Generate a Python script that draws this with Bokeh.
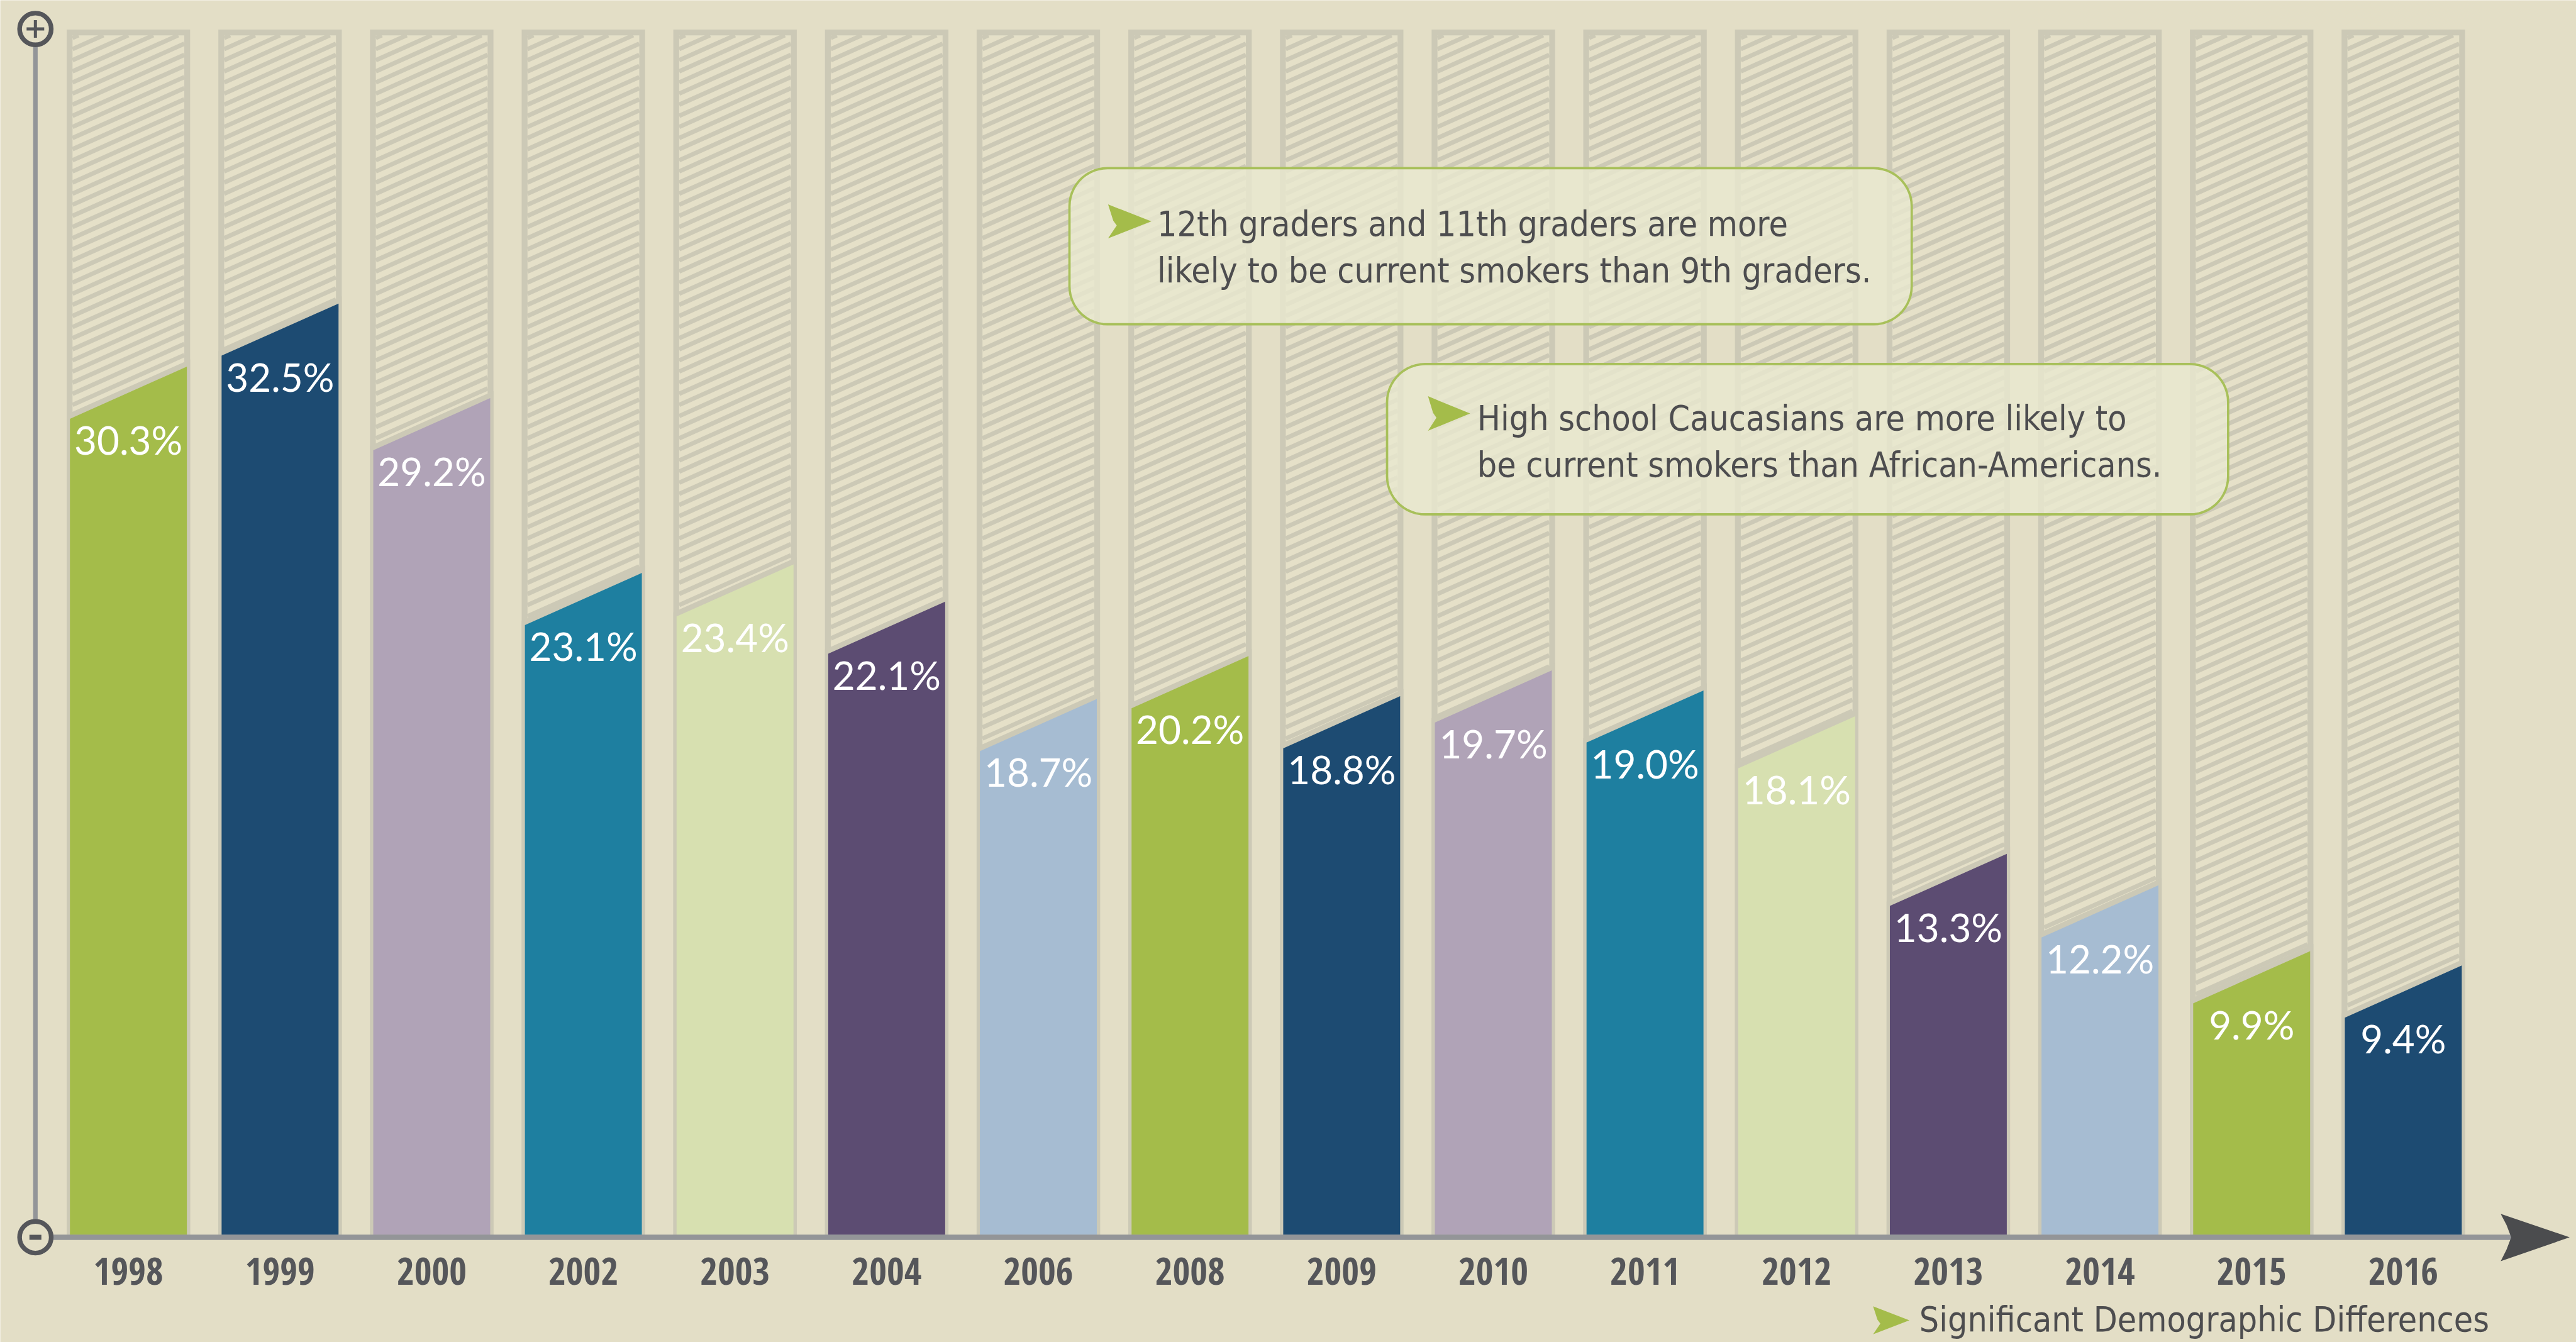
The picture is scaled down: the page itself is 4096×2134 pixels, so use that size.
import numpy as np
from bokeh.plotting import figure
from bokeh.models import Range1d, ColumnDataSource
from bokeh.embed import file_html
from bokeh.resources import INLINE
from bokeh.core.properties import value

# ---------------- data ----------------
years = ["1998", "1999", "2000", "2002", "2003", "2004", "2006", "2008",
         "2009", "2010", "2011", "2012", "2013", "2014", "2015", "2016"]
rates = [30.3, 32.5, 29.2, 23.1, 23.4, 22.1, 18.7, 20.2,
         18.8, 19.7, 19.0, 18.1, 13.3, 12.2, 9.9, 9.4]
rate_labels = ["30.3%", "32.5%", "29.2%", "23.1%", "23.4%", "22.1%", "18.7%", "20.2%",
               "18.8%", "19.7%", "19.0%", "18.1%", "13.3%", "12.2%", "9.9%", "9.4%"]
callout_1 = ["12th graders and 11th graders are more",
             "likely to be current smokers than 9th graders."]
callout_2 = ["High school Caucasians are more likely to",
             "be current smokers than African-Americans."]
legend_text = "Significant Demographic Differences"

# ---------------- styles ----------------
BG = "#e3dec6"
BAR_GRAY = "#ccc9b6"
HATCH_LIGHT = "#e5e0c8"
AXIS_GRAY = "#939598"
DARK = "#55565a"
TEXT_DARK = "#4d4d4f"
GREEN = "#a4bc4a"
palette = ["#a4bc4a", "#1d4b72", "#b0a3b7", "#1e7fa0", "#d7e0b0", "#5c4c72", "#a6bcd2"]
bar_colors = [palette[i % len(palette)] for i in range(len(years))]
COND = "DejaVu Sans Condensed, Roboto"
COND_BOLD = "Open Sans Condensed, DejaVu Sans Condensed"

W, H = 4096, 2134
S = 0.93                              # reference -> page scale
PX_X, PX_Y = 259.3 * S, 49.0 * S      # pixels per data unit
XS = -219 * S / PX_X                  # data x at left edge
YE = 2111 * S / PX_Y                  # data y at top edge
XE = XS + W / PX_X
YS = YE - H / PX_Y
TXT_UP = 17                           # px correction for text baseline

def rx(fx):  # reference pixel -> data x
    return XS + fx * S / PX_X

def ry(fy):  # reference pixel (from top) -> data y
    return YE - fy * S / PX_Y

BG_HALF, COL_HALF, IN_HALF = 0.407, 0.3855, 0.3685
BG_TOP = 42.06
IN_TOP = BG_TOP - 0.2
SLOPE = 2.36
GAP = 0.2
PERIOD = 0.388

p = figure(width=W, height=H, x_range=Range1d(XS, XE), y_range=Range1d(YS, YE),
           output_backend="svg", toolbar_location=None, tools="", min_border=0,
           background_fill_color=BG, border_fill_color=BG, outline_line_color=None)
p.axis.visible = False
p.grid.visible = False

x = np.arange(len(years), dtype=float)
v = np.array(rates)

# background bars
p.quad(left=x - BG_HALF, right=x + BG_HALF, bottom=0, top=BG_TOP,
       fill_color=BAR_GRAY, line_color=None)
p.quad(left=x - IN_HALF, right=x + IN_HALF, bottom=0, top=IN_TOP,
       fill_color=HATCH_LIGHT, line_color=None)

# hatch stripes (clipped to the inner box)
sx0, sy0, sx1, sy1 = [], [], [], []
rise = SLOPE * 2 * IN_HALF
for xi in x:
    xl, xr = xi - IN_HALF, xi + IN_HALF
    yl = -rise + 0.05
    while yl < IN_TOP:
        ax0, ay0, ax1, ay1 = xl, yl, xr, yl + rise
        if ay0 < 0:
            ax0, ay0 = xl + (0 - yl) / SLOPE, 0.0
        if ay1 > IN_TOP:
            ax1, ay1 = xl + (IN_TOP - yl) / SLOPE, IN_TOP
        if ax1 > ax0:
            sx0.append(ax0); sy0.append(ay0); sx1.append(ax1); sy1.append(ay1)
        yl += PERIOD
p.segment(x0=sx0, y0=sy0, x1=sx1, y1=sy1, line_color=BAR_GRAY, line_width=7.0,
          line_cap="butt")

# gray band under the slanted top, then colored bars
band_xs, band_ys, col_xs, col_ys = [], [], [], []
for xi, vi in zip(x, v):
    xr_c = xi + COL_HALF
    top = lambda xx: vi + GAP + SLOPE * (xx - xr_c)
    band_xs.append([xi - BG_HALF, xi + BG_HALF, xi + BG_HALF, xi - BG_HALF])
    band_ys.append([0, 0, top(xi + BG_HALF), top(xi - BG_HALF)])
    col_xs.append([xi - COL_HALF, xi + COL_HALF, xi + COL_HALF, xi - COL_HALF])
    col_ys.append([0, 0, vi, vi - SLOPE * 2 * COL_HALF])
p.patches(band_xs, band_ys, fill_color=BAR_GRAY, line_color=None)
src = ColumnDataSource(dict(xs=col_xs, ys=col_ys, color=bar_colors))
p.patches("xs", "ys", source=src, fill_color="color", line_color=None)

# value labels
left_top = v - SLOPE * 2 * COL_HALF
p.text(x=x, y=left_top - (51 - 18) / PX_Y, text=rate_labels, text_color="white",
       text_font=value("Lato"), text_font_size="62px", text_align="center",
       text_baseline="alphabetic")

# year labels
p.text(x=x, y=[ry(2191) + TXT_UP / PX_Y] * len(x), text=years, text_color=DARK,
       text_font=value(COND_BOLD), text_font_style="bold",
       text_font_size="60px", text_align="center", text_baseline="alphabetic")

# axes decoration
ax_x = rx(60)
p.line([ax_x, ax_x], [ry(49), ry(2115)], line_color=AXIS_GRAY, line_width=7.2)
p.line([ax_x, rx(4293)], [ry(2115), ry(2115)], line_color=AXIS_GRAY, line_width=8.4)
arrow_pts = [(4275, 2075), (4393, 2115), (4275, 2156), (4285, 2136),
             (4293, 2115), (4285, 2094)]
p.patch([rx(a) for a, b in arrow_pts], [ry(b) for a, b in arrow_pts],
        fill_color="#4b4c4e", line_color=None)
p.scatter([ax_x, ax_x], [ry(49), ry(2115)], size=50.3, marker="circle",
          fill_color=BG, line_color=DARK, line_width=7.4)
arm = 14 / PX_X
p.segment(x0=[ax_x - arm, ax_x], y0=[ry(49), ry(49) + 14 / PX_Y],
          x1=[ax_x + arm, ax_x], y1=[ry(49), ry(49) - 14 / PX_Y],
          line_color=DARK, line_width=5, line_cap="butt")
p.rect(x=[ax_x], y=[ry(2115)], width=19, height=8, width_units="screen",
       height_units="screen", fill_color=DARK, line_color=None)

# callouts
def rounded(x0, y0, x1, y1, r, n=14):
    pts = []
    for cx, cy, a0 in [(x0 + r, y0 + r, 180), (x1 - r, y0 + r, 270),
                       (x1 - r, y1 - r, 0), (x0 + r, y1 - r, 90)]:
        for t in np.linspace(a0, a0 + 90, n):
            pts.append((cx + r * np.cos(np.radians(t)), cy + r * np.sin(np.radians(t))))
    return [rx(a) for a, b in pts], [ry(b) for a, b in pts]

def marker(xl, xr, yt, yb):
    w, h = xr - xl, yb - yt
    ym = (yt + yb) / 2
    pts = [(xl, yt), (xr, ym), (xl, yb), (xl + 0.2 * w, ym + 0.12 * h),
           (xl + 0.12 * w, ym - 0.02 * h)]
    return [rx(a) for a, b in pts], [ry(b) for a, b in pts]

for box, tri, tx, bases, lines in [
        ((1828, 287, 3268, 554), (1894, 1968, 349, 407), 1978, (400, 480), callout_1),
        ((2371, 622, 3809, 879), (2441, 2513, 677, 736), 2525, (733, 812), callout_2)]:
    bx, by = rounded(*box, 65)
    p.patch(bx, by, fill_color="#e9e8cf", fill_alpha=0.8, line_color="#a8c05a", line_width=3.7)
    mx, my = marker(*tri)
    p.patch(mx, my, fill_color=GREEN, line_color=None)
    p.text(x=[rx(tx)] * 2, y=[ry(b) + TXT_UP / PX_Y for b in bases], text=lines,
           text_color=TEXT_DARK, text_font=value(COND), text_font_size="55px",
           text_align="left", text_baseline="alphabetic")

# legend
mx, my = marker(3202, 3264, 2233, 2281)
p.patch(mx, my, fill_color=GREEN, line_color=None)
p.text(x=[rx(3281)], y=[ry(2278) + (TXT_UP + 4) / PX_Y], text=[legend_text],
       text_color=TEXT_DARK, text_font=value(COND), text_font_size="55px",
       text_align="left", text_baseline="alphabetic")

open("out.html", "w").write(file_html(p, INLINE))
